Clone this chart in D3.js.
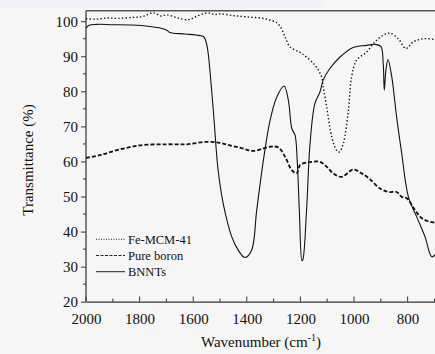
<!DOCTYPE html>
<html>
<head>
<meta charset="utf-8">
<script src="https://cdn.jsdelivr.net/npm/d3@7"></script>
<style>
  html, body { margin: 0; padding: 0; background: #f6f6f6; }
  svg { display: block; }
  svg text { font-family: "Liberation Serif", "Times New Roman", Times, serif !important; }
</style>
</head>
<body>
<div id="chart"></div>
<script>
// wavenumber (cm-1) / transmittance (%)
const bnntWave = [2000, 1990, 1960, 1900, 1830, 1761, 1720, 1698, 1687, 1640, 1623, 1575, 1560, 1550, 1544, 1525, 1507, 1488, 1456, 1432, 1407, 1382, 1363, 1338, 1313, 1288, 1261, 1245, 1232, 1220, 1212, 1204, 1194, 1191, 1177, 1164, 1146, 1127, 1115, 1090, 1052, 1003, 953, 922, 900, 891, 887, 881, 873, 859, 841, 822, 797, 766, 735, 710, 698, 690];
const bnntT    = [98.0, 98.8, 99.1, 99.0, 98.9, 98.5, 98.0, 97.4, 96.8, 96.4, 96.3, 95.9, 95.5, 93.5, 90.8, 74.6, 57.5, 48.0, 38.5, 34.7, 32.6, 34.7, 46.1, 60.4, 71.8, 78.4, 81.5, 77.5, 69.4, 67.5, 60.4, 46.1, 31.7, 31.9, 46.1, 65.1, 76.5, 79.8, 83.2, 86.5, 89.8, 92.5, 93.1, 93.4, 92.8, 87.9, 80.3, 86.0, 89.1, 84.1, 72.7, 62.3, 49.9, 44.2, 38.5, 32.8, 33.3, 33.8];

const feWave = [2000, 1960, 1920, 1880, 1825, 1790, 1750, 1720, 1698, 1660, 1623, 1600, 1575, 1545, 1520, 1500, 1450, 1396, 1332, 1284, 1257, 1239, 1195, 1146, 1121, 1115, 1102, 1083, 1065, 1055, 1040, 1021, 1009, 990, 953, 922, 891, 866, 835, 806, 779, 741, 698, 690];
const feT    = [100.7, 100.6, 100.9, 100.8, 101.1, 101.3, 102.4, 101.5, 101.8, 101.0, 100.4, 100.9, 101.8, 102.4, 101.9, 102.1, 101.6, 101.2, 100.7, 99.3, 95.5, 92.7, 90.8, 87.5, 84.1, 81.3, 75.6, 67.0, 63.2, 62.7, 65.1, 74.6, 84.1, 88.9, 91.2, 94.1, 96.0, 96.6, 95.0, 92.2, 94.1, 95.0, 94.8, 94.8];

const boronWave = [2000, 1948, 1885, 1799, 1699, 1624, 1550, 1500, 1463, 1420, 1376, 1313, 1282, 1257, 1232, 1214, 1201, 1164, 1127, 1102, 1077, 1046, 1003, 971, 940, 903, 872, 841, 822, 803, 772, 747, 716, 698, 690];
const boronT    = [61.0, 61.8, 63.2, 64.6, 64.9, 64.9, 65.6, 65.3, 64.6, 63.8, 63.0, 64.2, 64.0, 61.3, 57.5, 56.6, 59.0, 59.8, 59.9, 58.5, 56.6, 55.6, 57.7, 56.6, 54.9, 52.3, 51.3, 51.3, 49.9, 49.5, 46.1, 43.8, 42.8, 42.5, 42.3];

const seriesNames = ["Fe-MCM-41", "Pure boron", "BNNTs"];
const xTicks = [2000, 1800, 1600, 1400, 1200, 1000, 800];
const yTicks = [20, 30, 40, 50, 60, 70, 80, 90, 100];

const W = 435, H = 354;
const svg = d3.select("#chart").append("svg")
  .attr("width", W)
  .attr("height", H);

svg.append("rect").attr("width", W).attr("height", H).attr("fill", "#f6f6f6");
svg.append("rect").attr("width", 325).attr("height", 8).attr("fill", "#f3f1fb");

const x = d3.scaleLinear().domain([2000, 680]).range([86, 86 + 0.268 * 1320]);
const y = d3.scaleLinear().domain([20, 103]).range([301.7, 10.7]);

svg.append("clipPath").attr("id", "plotclip")
  .append("rect").attr("x", 86).attr("y", 10.7).attr("width", W - 86).attr("height", 291);

// axes
const xAxis = svg.append("g")
  .attr("transform", "translate(0,301.7)")
  .call(d3.axisBottom(x).tickValues(xTicks).tickSize(0).tickPadding(12).tickFormat(d3.format("d")));
xAxis.select(".domain").attr("stroke", "#333").attr("stroke-width", 1.2);
xAxis.selectAll("text").attr("font-size", 15).attr("fill", "#111");

// x ticks point inward
const xMinor = d3.range(2000, 680, -100);
svg.append("g").selectAll("line")
  .data(xMinor)
  .join("line")
    .attr("x1", d => x(d)).attr("x2", d => x(d))
    .attr("y1", 301.7)
    .attr("y2", d => d % 200 === 0 ? 296.5 : 298.7)
    .attr("stroke", "#333").attr("stroke-width", 1);

const yAxis = svg.append("g")
  .attr("transform", "translate(86,0)")
  .call(d3.axisLeft(y).tickValues(yTicks).tickSize(5).tickPadding(3));
yAxis.select(".domain").attr("d", "M0," + y(20) + "V" + y(103)).attr("stroke", "#333").attr("stroke-width", 1.2);
yAxis.selectAll(".tick line").attr("stroke", "#333");
yAxis.selectAll("text").attr("font-size", 15).attr("fill", "#111");

svg.append("g").selectAll("line")
  .data(d3.range(25, 100, 10))
  .join("line")
    .attr("x1", 83).attr("x2", 86)
    .attr("y1", d => y(d)).attr("y2", d => y(d))
    .attr("stroke", "#333");

// top frame
svg.append("line")
  .attr("x1", 86).attr("x2", W)
  .attr("y1", 10.7).attr("y2", 10.7)
  .attr("stroke", "#555").attr("stroke-width", 1.5);

// curves
const line = d3.line()
  .x(d => x(d[0]))
  .y(d => y(d[1]))
  .curve(d3.curveCatmullRom.alpha(0.5));

const plot = svg.append("g").attr("clip-path", "url(#plotclip)");

plot.append("path")
  .datum(feWave.map((w, i) => [w, feT[i]]))
  .attr("d", line)
  .attr("fill", "none")
  .attr("stroke", "#111")
  .attr("stroke-width", 1.4)
  .attr("stroke-dasharray", "1.4,2.2");

plot.append("path")
  .datum(boronWave.map((w, i) => [w, boronT[i]]))
  .attr("d", line)
  .attr("fill", "none")
  .attr("stroke", "#111")
  .attr("stroke-width", 1.8)
  .attr("stroke-dasharray", "4,2");

plot.append("path")
  .datum(bnntWave.map((w, i) => [w, bnntT[i]]))
  .attr("d", line)
  .attr("fill", "none")
  .attr("stroke", "#111")
  .attr("stroke-width", 1.1);

// legend
const dashes = ["1,1.5", "3,1.5", null];
const legend = svg.append("g").attr("transform", "translate(96,239.3)");
seriesNames.forEach((name, i) => {
  const g = legend.append("g").attr("transform", "translate(0," + (i * 16.2) + ")");
  g.append("line")
    .attr("x1", 0).attr("x2", 29)
    .attr("stroke", "#222")
    .attr("stroke-width", 1)
    .attr("stroke-dasharray", dashes[i]);
  g.append("text")
    .attr("x", 32).attr("y", 4.3)
    .attr("font-size", 12.5)
    .attr("fill", "#111")
    .text(name);
});

// axis titles
const xt = svg.append("text")
  .attr("x", 261).attr("y", 347)
  .attr("text-anchor", "middle")
  .attr("font-size", 15)
  .attr("fill", "#111")
  .text("Wavenumber (cm");
xt.append("tspan").attr("dy", -6).attr("font-size", 10).text("-1");
xt.append("tspan").attr("dy", 6).text(")");

svg.append("text")
  .attr("transform", "translate(33,160) rotate(-90)")
  .attr("text-anchor", "middle")
  .attr("font-size", 15)
  .attr("fill", "#111")
  .text("Transmittance (%)");
</script>
</body>
</html>
